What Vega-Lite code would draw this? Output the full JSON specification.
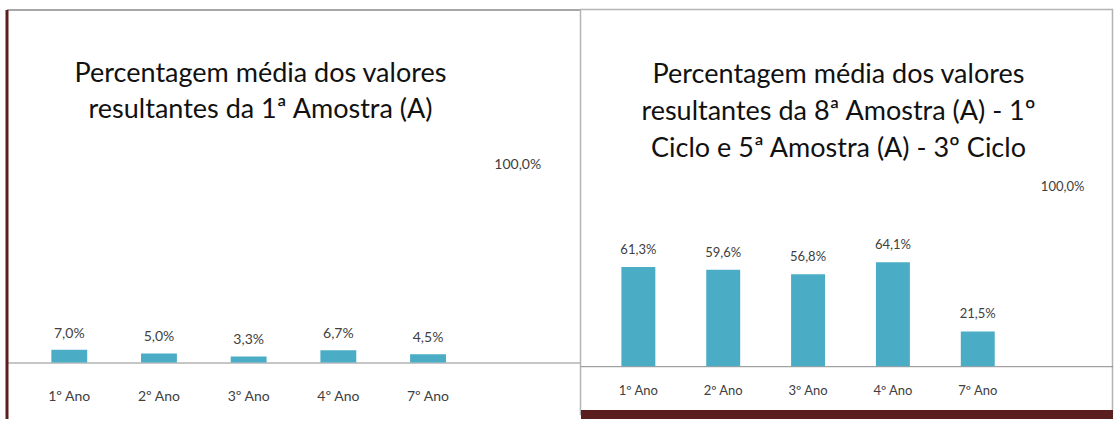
{
  "$schema": "https://vega.github.io/schema/vega-lite/v6.json",
  "background": "white",
  "padding": {"left": 6.5, "top": 8.5, "right": 0, "bottom": 0},
  "spacing": 0,
  "bounds": "flush",
  "config": {
    "view": {"stroke": null},
    "locale": {"number": {"decimal": ",", "thousands": ".", "grouping": [3], "currency": ["", " €"]}},
    "font": "Lato"
  },
  "datasets": {
    "primeira": [
      {"ano": "1º Ano", "valor": 0.070},
      {"ano": "2º Ano", "valor": 0.050},
      {"ano": "3º Ano", "valor": 0.033},
      {"ano": "4º Ano", "valor": 0.067},
      {"ano": "7º Ano", "valor": 0.045},
      {"ano": " ", "valor": 1.0}
    ],
    "oitava": [
      {"ano": "1º Ano", "valor": 0.613},
      {"ano": "2º Ano", "valor": 0.596},
      {"ano": "3º Ano", "valor": 0.568},
      {"ano": "4º Ano", "valor": 0.641},
      {"ano": "7º Ano", "valor": 0.215},
      {"ano": " ", "valor": 1.0}
    ]
  },
  "hconcat": [
    {
      "width": 574,
      "height": 409,
      "data": {"name": "primeira"},
      "title": {
        "text": ["Percentagem média dos valores", "resultantes da 1ª Amostra (A)"],
        "font": "Lato", "fontSize": 27, "fontWeight": "normal", "color": "#111111",
        "lineHeight": 36, "anchor": "middle", "frame": "group", "offset": -114, "dx": -33
      },
      "resolve": {"axis": {"x": "independent"}},
      "layer": [
        {
          "transform": [{"filter": "datum.valor < 1"}],
          "mark": {"type": "bar", "color": "#4BACC6"},
          "encoding": {
            "x": {"field": "ano", "type": "nominal", "sort": null,
                  "scale": {"paddingInner": 0.6, "paddingOuter": 0.5, "domain": ["1º Ano", "2º Ano", "3º Ano", "4º Ano", "7º Ano", " "]},
                  "axis": {"orient": "bottom", "offset": -56, "title": null, "labelAngle": 0, "ticks": false, "tickSize": 0,
                           "labelPadding": 27, "labelFontSize": 14, "labelColor": "#404040", "labelFont": "Lato",
                           "domainColor": "#8c8c8c", "domainWidth": 1}},
            "y": {"field": "valor", "type": "quantitative",
                  "scale": {"domain": [-0.3077, 1.9396], "zero": true, "nice": false},
                  "axis": {"orient": "left", "title": null, "labels": false, "ticks": false, "grid": false,
                           "domainColor": "#5B1E1E", "domainWidth": 3}}
          }
        },
        {
          "mark": {"type": "text", "baseline": "middle", "dy": -16, "fontSize": 14, "color": "#404040", "font": "Lato"},
          "encoding": {
            "x": {"field": "ano", "type": "nominal", "sort": null,
                  "scale": {"paddingInner": 0.6, "paddingOuter": 0.5, "domain": ["1º Ano", "2º Ano", "3º Ano", "4º Ano", "7º Ano", " "]},
                  "axis": {"orient": "top", "title": null, "labels": false, "ticks": false, "tickSize": 0,
                           "domainColor": "#8a8a8a", "domainWidth": 1.5}},
            "y": {"field": "valor", "type": "quantitative",
                  "scale": {"domain": [-0.3077, 1.9396], "zero": true, "nice": false},
                  "axis": {"orient": "left", "title": null, "labels": false, "ticks": false, "grid": false,
                           "domainColor": "#5B1E1E", "domainWidth": 3}},
            "text": {"field": "valor", "type": "quantitative", "format": ".1%"}
          }
        }
      ]
    },
    {
      "width": 532,
      "height": 405,
      "data": {"name": "oitava"},
      "view": {"stroke": "#b4b4b4", "strokeWidth": 1.5},
      "title": {
        "text": ["Percentagem média dos valores", "resultantes da 8ª Amostra (A) - 1º", "Ciclo e 5ª Amostra (A) - 3º Ciclo"],
        "font": "Lato", "fontSize": 27, "fontWeight": "normal", "color": "#111111",
        "lineHeight": 37, "anchor": "middle", "frame": "group", "offset": -153, "dx": -8
      },
      "resolve": {"axis": {"x": "independent"}},
      "layer": [
        {
          "transform": [{"filter": "datum.valor < 1"}],
          "mark": {"type": "bar", "color": "#4BACC6"},
          "encoding": {
            "x": {"field": "ano", "type": "nominal", "sort": null,
                  "scale": {"paddingInner": 0.6, "paddingOuter": 0.435, "align": 0.554, "domain": ["1º Ano", "2º Ano", "3º Ano", "4º Ano", "7º Ano", " "]},
                  "axis": {"orient": "bottom", "offset": -48.3, "title": null, "labelAngle": 0, "ticks": false, "tickSize": 0,
                           "labelPadding": 18, "labelFontSize": 13, "labelColor": "#404040", "labelFont": "Lato",
                           "domainColor": "#8c8c8c", "domainWidth": 1}},
            "y": {"field": "valor", "type": "quantitative",
                  "scale": {"domain": [-0.2981, 2.2019], "zero": true, "nice": false},
                  "axis": null}
          }
        },
        {
          "mark": {"type": "text", "baseline": "middle", "dy": -17, "fontSize": 13, "color": "#404040", "font": "Lato"},
          "encoding": {
            "x": {"field": "ano", "type": "nominal", "sort": null,
                  "scale": {"paddingInner": 0.6, "paddingOuter": 0.435, "align": 0.554, "domain": ["1º Ano", "2º Ano", "3º Ano", "4º Ano", "7º Ano", " "]},
                  "axis": {"orient": "bottom", "offset": 0, "title": null, "labels": false, "ticks": false, "tickSize": 0,
                           "domainColor": "#5B1E1E", "domainWidth": 10}},
            "y": {"field": "valor", "type": "quantitative",
                  "scale": {"domain": [-0.2981, 2.2019], "zero": true, "nice": false},
                  "axis": null},
            "text": {"field": "valor", "type": "quantitative", "format": ".1%"}
          }
        }
      ]
    }
  ]
}
